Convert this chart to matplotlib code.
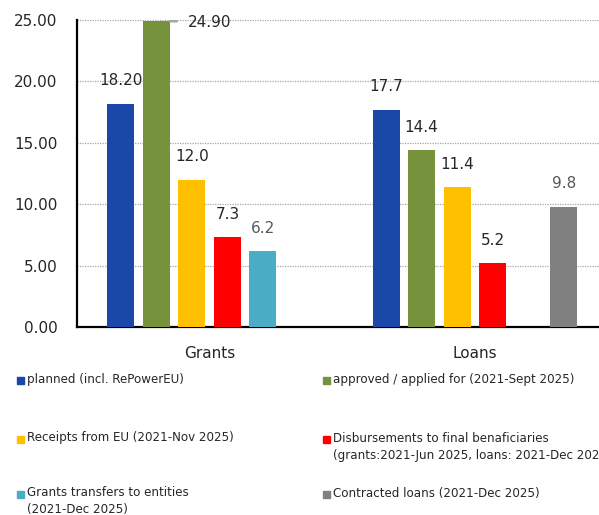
import numpy as np
import matplotlib
matplotlib.use('Agg')
import matplotlib.pyplot as plt
from matplotlib.patches import Rectangle

# data
categories = ['Grants', 'Loans']
series_names = ['planned (incl. RePowerEU)',
                'approved / applied for (2021-Sept 2025)',
                'Receipts from EU (2021-Nov 2025)',
                'Disbursements to final benaficiaries\n(grants:2021-Jun 2025, loans: 2021-Dec 2025)',
                'Grants transfers to entities\n(2021-Dec 2025)',
                'Contracted loans (2021-Dec 2025)']
series_colors = ['#1A48A8', '#76923C', '#FFC000', '#FF0000', '#4BACC6', '#808080']
planned = [18.20, 17.7]
approved = [24.90, 14.4]
receipts = [12.0, 11.4]
disbursed = [7.3, 5.2]
transfers = [6.2, np.nan]
contracted = [np.nan, 9.8]
planned_lbl = ['18.20', '17.7']
approved_lbl = ['24.90', '14.4']
receipts_lbl = ['12.0', '11.4']
disbursed_lbl = ['7.3', '5.2']
transfers_lbl = ['6.2', '']
contracted_lbl = ['', '9.8']
yticks = [0, 5, 10, 15, 20, 25]

all_values = [planned, approved, receipts, disbursed, transfers, contracted]
all_labels = [planned_lbl, approved_lbl, receipts_lbl, disbursed_lbl, transfers_lbl, contracted_lbl]
label_colors = ['#262626', '#262626', '#262626', '#262626', '#595959', '#595959']

fig = plt.figure(figsize=(5.99, 5.15), dpi=100)
ax = fig.add_axes([77 / 599, 1 - 327 / 515, 530.5 / 599, 307 / 515])

x = np.arange(len(categories))
slot = 35.5 / 265
width = 27 / 265

for i, (vals, lbls) in enumerate(zip(all_values, all_labels)):
    xs = x + (i - 2.5) * slot
    ax.bar(xs, vals, width, color=series_colors[i], zorder=3)
    for xi, v, t in zip(xs, vals, lbls):
        if np.isnan(v) or t == '':
            continue
        if t == '24.90':
            # label sits to the right with a short leader line
            ax.annotate('', xy=(xi + width / 2, v), xytext=(5, 0), textcoords='offset points',
                        arrowprops=dict(arrowstyle='-', color='#A6A6A6', lw=1.8,
                                        shrinkA=0, shrinkB=0))
            ax.annotate(t, xy=(xi + width / 2, v), xytext=(13, -1), textcoords='offset points',
                        ha='left', va='center', fontsize=11, color=label_colors[i])
        else:
            ax.annotate(t, xy=(xi, v), xytext=(0, 11), textcoords='offset points',
                        ha='center', va='bottom', fontsize=11, color=label_colors[i])

ax.set_xlim(-0.5, 1.5)
ax.set_ylim(0, 25)
ax.set_yticks(yticks)
ax.set_yticklabels(['%.2f' % v for v in yticks], fontsize=11)
ax.set_xticks(x)
ax.set_xticklabels(categories, fontsize=11)
ax.tick_params(axis='both', length=0, colors='#262626')
ax.tick_params(axis='y', pad=14)
ax.tick_params(axis='x', pad=14)
ax.yaxis.grid(True, color='#A6A6A6', linestyle=(0, (1, 1)), linewidth=0.9, zorder=0)
ax.set_axisbelow(True)
for s in ['top', 'right']:
    ax.spines[s].set_visible(False)
ax.spines['left'].set_linewidth(1.6)
ax.spines['bottom'].set_linewidth(1.6)

# legend, two columns drawn by hand
col_x = [17, 323]
row_y = [380, 439, 494]
order = [0, 2, 4, 1, 3, 5]
for k, idx in enumerate(order):
    col = k // 3
    row = k % 3
    px, py = col_x[col], row_y[row]
    fig.patches.append(Rectangle((px / 599, (515 - py - 3.5) / 515), 7 / 599, 7 / 515,
                                 transform=fig.transFigure, color=series_colors[idx]))
    fig.text((px + 10) / 599, (515 - py + 7.5) / 515, series_names[idx],
             ha='left', va='top', fontsize=8.6, color='#262626', linespacing=1.4)

fig.savefig('out.png', dpi=100)
